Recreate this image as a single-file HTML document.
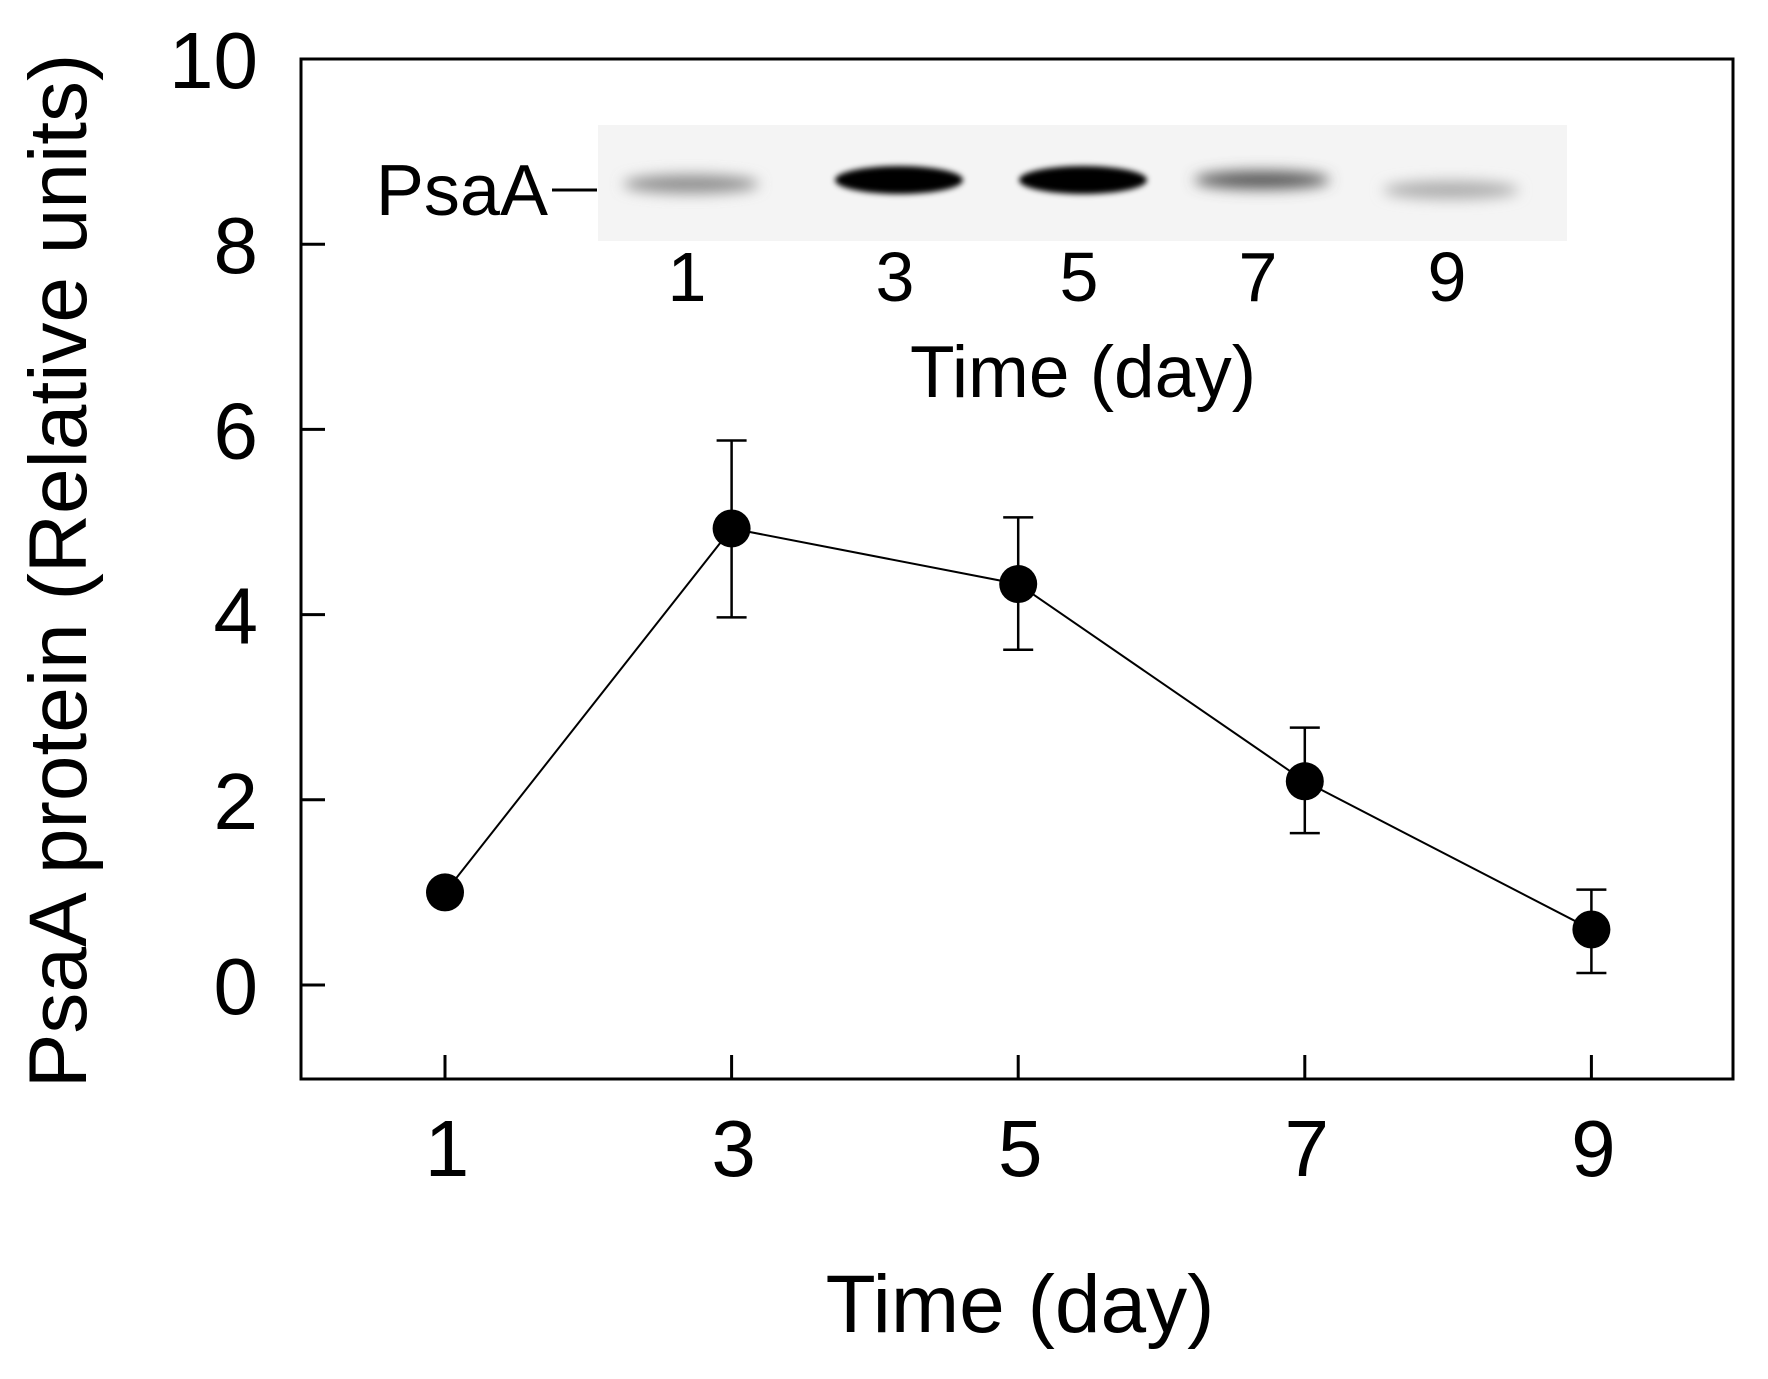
<!DOCTYPE html>
<html><head><meta charset="utf-8"><style>
html,body{margin:0;padding:0;background:#fff;}
svg{display:block;font-family:"Liberation Sans",Arial,sans-serif;}
</style></head><body>
<svg width="1768" height="1379" viewBox="0 0 1768 1379">
<defs>
<filter id="blur" x="-50%" y="-200%" width="200%" height="500%"><feGaussianBlur stdDeviation="7"/></filter>
<filter id="blur2" x="-50%" y="-200%" width="200%" height="500%"><feGaussianBlur stdDeviation="3"/></filter>
</defs>
<g id="plot"></g>
</svg>
<script>
const days = [1,3,5,7,9];
const means = [1.0, 4.93, 4.33, 2.2, 0.6];
const errUpper = [1.0, 5.88, 5.05, 2.78, 1.03];
const errLower = [1.0, 3.97, 3.62, 1.64, 0.13];
const yTicks = [0,2,4,6,8,10];
const xTicks = [1,3,5,7,9];
const bandIntensity = [0.35, 1.0, 1.0, 0.6, 0.2];

const NS='http://www.w3.org/2000/svg';
const g=document.getElementById('plot');
const L=301,R=1733,T=59,B=1079;
const x=d=>445+(d-1)*143.3;
const y=v=>985-v*92.6;
function mk(tag,attrs,parent){const e=document.createElementNS(NS,tag);for(const k in attrs)e.setAttribute(k,attrs[k]);(parent||g).appendChild(e);return e;}

// blot inset
const blot=mk('rect',{x:598,y:125,width:969,height:116,fill:'#f4f4f4'});


const laneX=[691,899,1083,1262,1451];
bandIntensity.forEach((b,i)=>{
  const s=Math.round(255*(1-b)*0.85);
  const band=mk('ellipse',{cx:laneX[i],cy:i==0?184:(i==4?190:180),rx:b>0.9?64:68,ry:b>0.9?14:9,fill:`rgb(${s},${s},${s})`,filter:b>0.9?'url(#blur2)':'url(#blur)'});
  
  
});
const psa=mk('text',{x:548,y:215,'font-size':72,'text-anchor':'end'});psa.textContent='PsaA';

mk('line',{x1:552,x2:597,y1:190,y2:190,stroke:'#000','stroke-width':3});
days.forEach((d,i)=>{const t=mk('text',{x:laneX[i]-4,y:301,'font-size':70,'text-anchor':'middle'});t.textContent=d;
});
const it=mk('text',{x:1083,y:397,'font-size':73,'text-anchor':'middle'});it.textContent='Time (day)';


// axes box
const box=mk('rect',{x:L,y:T,width:R-L,height:B-T,fill:'none',stroke:'#000','stroke-width':3});

yTicks.forEach(v=>{
  mk('line',{x1:L,x2:L+24,y1:y(v),y2:y(v),stroke:'#000','stroke-width':3});
  const t=mk('text',{x:258,y:y(v)+29,'font-size':80,'text-anchor':'end'});t.textContent=v;
  
});
xTicks.forEach(d=>{
  mk('line',{x1:x(d),x2:x(d),y1:B,y2:B-24,stroke:'#000','stroke-width':3});
  const t=mk('text',{x:x(d)+2,y:1176,'font-size':80,'text-anchor':'middle'});t.textContent=d;
  
});
const xt=mk('text',{x:1020,y:1332,'font-size':82,'text-anchor':'middle'});xt.textContent='Time (day)';

const yt=mk('text',{x:0,y:0,'font-size':82,'text-anchor':'middle',transform:'translate(86,571) rotate(-90)'});yt.textContent='PsaA protein (Relative units)';


// series
const line=mk('polyline',{points:days.map((d,i)=>x(d)+','+y(means[i])).join(' '),fill:'none',stroke:'#000','stroke-width':2});

days.forEach((d,i)=>{
  if(errUpper[i]!==errLower[i]){
    const eb=mk('path',{d:`M${x(d)},${y(errUpper[i])}V${y(errLower[i])}M${x(d)-15},${y(errUpper[i])}h30M${x(d)-15},${y(errLower[i])}h30`,stroke:'#000','stroke-width':2.5,fill:'none'});
    
  }
  const c=mk('circle',{cx:x(d),cy:y(means[i]),r:19,fill:'#000'});
  
});
</script>
</body></html>
